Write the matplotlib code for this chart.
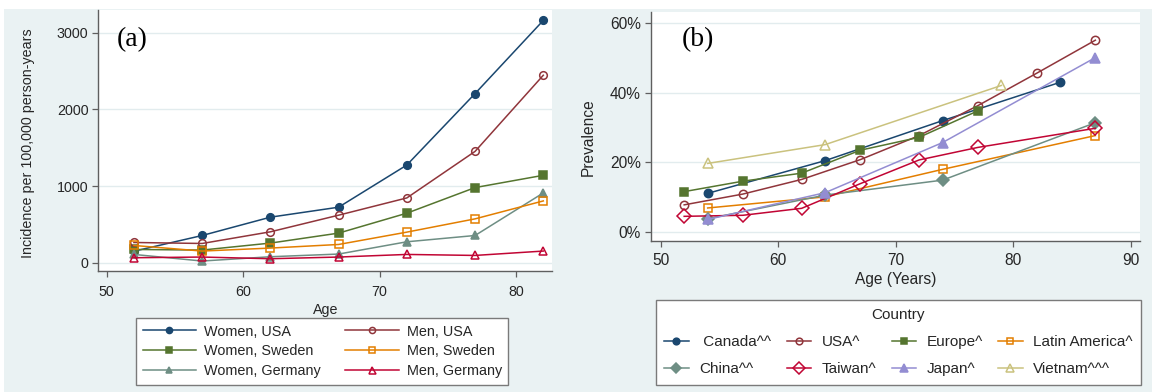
import matplotlib
matplotlib.use("Agg")
import matplotlib.pyplot as plt
from matplotlib.patches import Rectangle
from matplotlib.ticker import FuncFormatter

# ---- Panel (a): incidence per 100,000 person-years ----
ages_a = [52, 57, 62, 67, 72, 77, 82]
women_usa = [150, 355, 594, 724, 1274, 2206, 3160]
men_usa = [264, 251, 403, 620, 845, 1452, 2445]
women_sweden = [173, 165, 256, 386, 646, 980, 1140]
men_sweden = [225, 152, 191, 238, 399, 572, 806]
women_germany = [108, 22, 78, 113, 273, 355, 910]
men_germany = [65, 74, 52, 74, 108, 95, 152]
labels_a = ["Women, USA", "Women, Sweden", "Women, Germany",
            "Men, USA", "Men, Sweden", "Men, Germany"]
xticks_a = [50, 60, 70, 80]
yticks_a = [0, 1000, 2000, 3000]

# ---- Panel (b): prevalence (%) by country ----
canada_age = [54, 64, 74, 84]
canada = [11.1, 20.5, 32.0, 43.0]
usa_age = [52, 57, 62, 67, 72, 77, 82, 87]
usa = [7.8, 10.9, 15.1, 20.8, 27.7, 36.3, 45.6, 55.1]
europe_age = [52, 57, 62, 67, 72, 77]
europe = [11.6, 14.6, 16.9, 23.5, 27.2, 34.8]
latam_age = [54, 64, 74, 87]
latam = [6.9, 10.1, 18.0, 27.7]
china_age = [54, 64, 74, 87]
china = [3.8, 10.6, 14.9, 31.4]
taiwan_age = [52, 57, 62, 67, 72, 77, 87]
taiwan = [4.5, 4.8, 6.8, 13.9, 20.7, 24.3, 29.8]
japan_age = [54, 64, 74, 87]
japan = [3.6, 11.3, 25.7, 50.1]
vietnam_age = [54, 64, 79]
vietnam = [19.7, 25.1, 42.1]
labels_b = [" Canada^^", "USA^", "Europe^", "Latin America^",
            "China^^", "Taiwan^", "Japan^", "Vietnam^^^"]
xticks_b = [50, 60, 70, 80, 90]
yticks_b = [0, 20, 40, 60]

# Stata s2color palette
NAVY = "#1A476F"
MAROON = "#90353B"
GREEN = "#55752F"
ORANGE = "#E37E00"
TEAL = "#6E8E84"
CRANBERRY = "#C10534"
LAVENDER = "#938DD2"
KHAKI = "#CAC27E"
BG = "#EAF2F3"
GRID = "#E2ECEE"
AXC = "#5F5F5F"
TXT = "#262626"

plt.rcParams["font.family"] = ["Liberation Sans", "DejaVu Sans"]

W, H = 1152, 392
fig = plt.figure(figsize=(W / 100, H / 100), dpi=100)
fig.patch.set_facecolor("white")
fig.add_artist(Rectangle((4 / W, 0), (W - 4) / W, (H - 9) / H,
                         transform=fig.transFigure, facecolor=BG,
                         edgecolor="none", zorder=-10))


def px_axes(x0, x1, ytop, ybot):
    return fig.add_axes([x0 / W, (H - ybot) / H, (x1 - x0) / W, (ybot - ytop) / H])


def style_axes(ax, fs):
    ax.set_facecolor("white")
    for s in ("top", "right"):
        ax.spines[s].set_visible(False)
    for s in ("left", "bottom"):
        ax.spines[s].set_color(AXC)
        ax.spines[s].set_linewidth(1.0)
    ax.tick_params(direction="out", length=4, width=0.9, color=AXC,
                   labelsize=fs, labelcolor=TXT, pad=3)
    ax.grid(axis="y", color=GRID, linewidth=1.0)
    ax.set_axisbelow(True)


# ---------------- Panel (a) ----------------
ax1 = px_axes(98.3, 552.3, 10, 271)
style_axes(ax1, 10.3)
ax1.tick_params(axis="x", pad=6)

lw = 1.1
ms = 5.5
series_a = [
    (women_usa, NAVY, "o", True, ms),
    (women_sweden, GREEN, "s", True, ms),
    (women_germany, TEAL, "^", True, ms + 0.5),
    (men_usa, MAROON, "o", False, ms),
    (men_sweden, ORANGE, "s", False, ms),
    (men_germany, CRANBERRY, "^", False, ms + 0.8),
]
handles_a = []
for (vals, col, mk, filled, m), lab in zip(series_a, labels_a):
    h, = ax1.plot(ages_a, vals, color=col, lw=lw, marker=mk, ms=m,
                  mfc=col if filled else "none", mec=col, mew=1.1,
                  label=lab, clip_on=False)
    handles_a.append(h)

ax1.set_xlim(49.39, 82.66)
ax1.set_ylim(-108, 3296)
ax1.set_xticks(xticks_a)
ax1.set_yticks(yticks_a)
ax1.set_xlabel("Age", fontsize=10.3, color=TXT, labelpad=3)
ax1.set_ylabel("Incidence per 100,000 person-years", fontsize=10.3, color=TXT)
ax1.yaxis.set_label_coords(-0.139, 0.49)
ax1.text(0.041, 0.885, "(a)", transform=ax1.transAxes, fontsize=20,
         family=["Liberation Serif", "DejaVu Serif"], ha="left", va="center",
         color="black")

leg1 = fig.legend(handles=handles_a, labels=labels_a, ncol=2,
                  loc="upper left", bbox_to_anchor=(136 / W, (H - 318) / H),
                  fontsize=10.4, frameon=True, fancybox=False,
                  edgecolor="#7A7A7A", facecolor="white", framealpha=1,
                  handlelength=3.7, handletextpad=0.55, columnspacing=1.7,
                  labelspacing=0.4, borderpad=0.45, borderaxespad=0,
                  markerscale=0.8)
leg1.get_frame().set_linewidth(1.0)
for t in leg1.get_texts():
    t.set_color(TXT)

# ---------------- Panel (b) ----------------
ax2 = px_axes(650.7, 1140, 12, 240.7)
style_axes(ax2, 11.2)
ax2.tick_params(axis="x", pad=5)

ms2 = 6
series_b = [
    (canada_age, canada, NAVY, "o", True, ms2),
    (usa_age, usa, MAROON, "o", False, ms2),
    (europe_age, europe, GREEN, "s", True, ms2),
    (latam_age, latam, ORANGE, "s", False, ms2),
    (china_age, china, TEAL, "D", True, ms2),
    (taiwan_age, taiwan, CRANBERRY, "D", False, ms2 + 1.5),
    (japan_age, japan, LAVENDER, "^", True, ms2 + 0.5),
    (vietnam_age, vietnam, KHAKI, "^", False, ms2 + 0.5),
]
handles_b = []
for (xs, vals, col, mk, filled, m), lab in zip(series_b, labels_b):
    h, = ax2.plot(xs, vals, color=col, lw=lw, marker=mk, ms=m,
                  mfc=col if filled else "none", mec=col, mew=1.1,
                  label=lab, clip_on=False)
    handles_b.append(h)

ax2.set_xlim(49.15, 90.8)
ax2.set_ylim(-2.5, 63.2)
ax2.set_xticks(xticks_b)
ax2.set_yticks(yticks_b)
ax2.yaxis.set_major_formatter(FuncFormatter(lambda v, p: f"{v:.0f}%"))
ax2.set_xlabel("Age (Years)", fontsize=11.2, color=TXT, labelpad=3)
ax2.set_ylabel("Prevalence", fontsize=11.2, color=TXT)
ax2.yaxis.set_label_coords(-0.113, 0.453)
ax2.text(0.064, 0.878, "(b)", transform=ax2.transAxes, fontsize=20,
         family=["Liberation Serif", "DejaVu Serif"], ha="left", va="center",
         color="black")

# legend filled column by column: reorder so rows read as in the series list
order = [0, 4, 1, 5, 2, 6, 3, 7]
leg2 = fig.legend(handles=[handles_b[i] for i in order],
                  labels=[labels_b[i] for i in order], ncol=4,
                  title="Country", title_fontsize=11,
                  loc="upper left", bbox_to_anchor=(655.7 / W, (H - 300) / H),
                  fontsize=11, frameon=True, fancybox=False,
                  edgecolor="#7A7A7A", facecolor="white", framealpha=1,
                  handlelength=1.6, handletextpad=0.7, columnspacing=1.0,
                  labelspacing=0.85, borderpad=0.55, borderaxespad=0,
                  markerscale=0.8)
leg2.get_frame().set_linewidth(1.0)
leg2.get_title().set_color(TXT)
for t in leg2.get_texts():
    t.set_color(TXT)

fig.savefig("out.png", dpi=100, facecolor=fig.get_facecolor())
